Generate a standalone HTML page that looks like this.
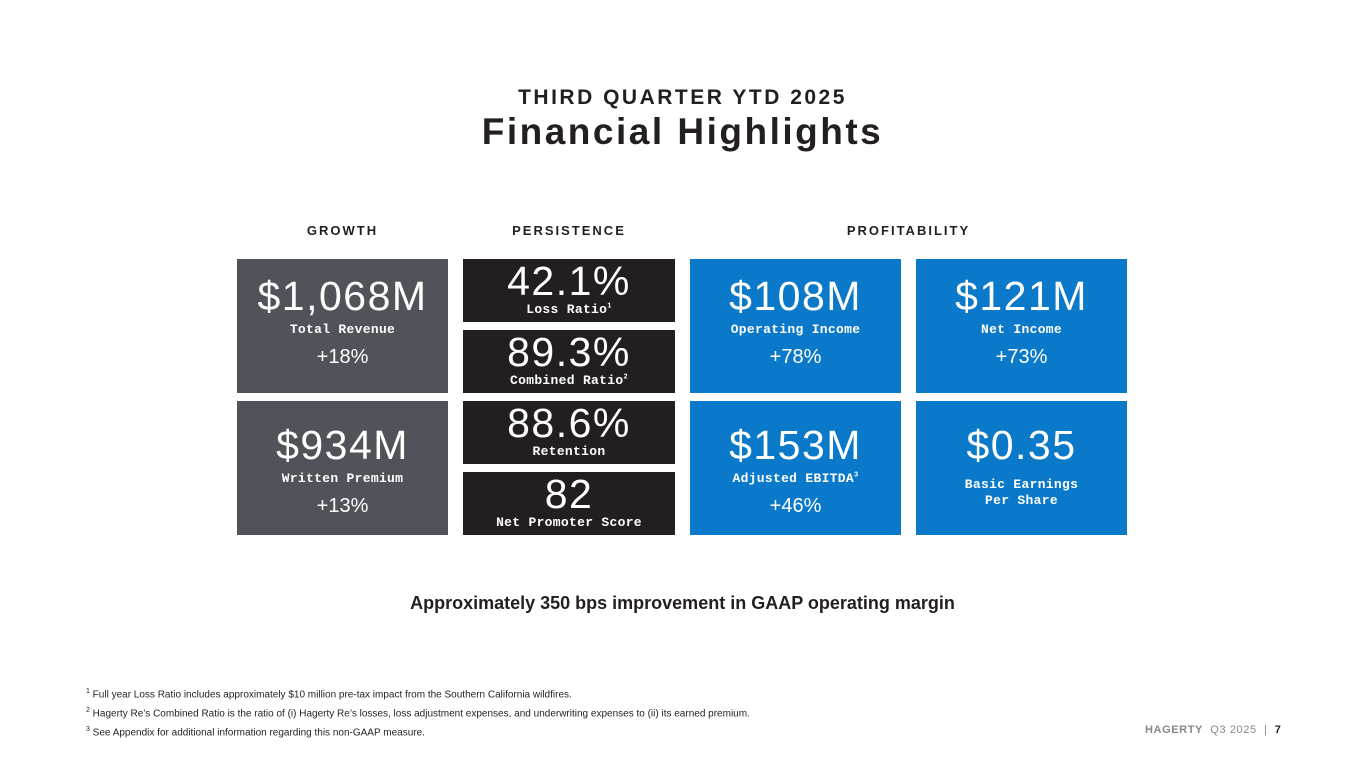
<!DOCTYPE html>
<html><head><meta charset="utf-8"><style>
*{margin:0;padding:0;box-sizing:border-box}
body{width:1365px;height:768px;background:#fff;position:relative;overflow:hidden;font-family:"Liberation Sans",sans-serif;color:#231f20}
.abs{position:absolute}
.tile{position:absolute;color:#fff;text-align:center}
.big{font-size:41px;line-height:1;letter-spacing:1.5px;font-weight:300}
.lbl{font-family:"Liberation Mono",monospace;font-weight:bold;font-size:13px;letter-spacing:0.3px}
.chg{font-size:20px}
.g{background:#505359}.d{background:#231f20}.b{background:#0a79c9}
.hdr{position:absolute;top:223px;font-weight:bold;font-size:13px;letter-spacing:2px;text-align:center}
.fn{position:absolute;left:86px;font-size:10px;color:#231f20}
sup{font-size:7px}
</style></head><body>
<div class="abs" style="left:0;width:1365px;top:86px;text-align:center;font-size:21px;font-weight:bold;letter-spacing:2.5px">THIRD QUARTER YTD 2025</div>
<div class="abs" style="left:0;width:1365px;top:111px;text-align:center;font-size:37px;font-weight:bold;letter-spacing:2.5px">Financial Highlights</div>
<div class="hdr" style="left:237px;width:211px">GROWTH</div>
<div class="hdr" style="left:463px;width:212px">PERSISTENCE</div>
<div class="hdr" style="left:690px;width:437px">PROFITABILITY</div>

<div class="tile g" style="left:237px;top:259px;width:211px;height:134px"><div class="big" style="margin-top:17px">$1,068M</div><div class="lbl" style="margin-top:5px">Total Revenue</div><div class="chg" style="margin-top:9px">+18%</div></div>
<div class="tile g" style="left:237px;top:401px;width:211px;height:134px"><div class="big" style="margin-top:24px">$934M</div><div class="lbl" style="margin-top:5px">Written Premium</div><div class="chg" style="margin-top:9px">+13%</div></div>

<div class="tile d" style="left:463px;top:259px;width:212px;height:63px"><div class="big" style="margin-top:2px">42.1%</div><div class="lbl" style="margin-top:0px">Loss Ratio<sup>1</sup></div></div>
<div class="tile d" style="left:463px;top:330px;width:212px;height:63px"><div class="big" style="margin-top:2px">89.3%</div><div class="lbl" style="margin-top:0px">Combined Ratio<sup>2</sup></div></div>
<div class="tile d" style="left:463px;top:401px;width:212px;height:63px"><div class="big" style="margin-top:2px">88.6%</div><div class="lbl" style="margin-top:0px">Retention</div></div>
<div class="tile d" style="left:463px;top:472px;width:212px;height:63px"><div class="big" style="margin-top:2px">82</div><div class="lbl" style="margin-top:0px">Net Promoter Score</div></div>

<div class="tile b" style="left:690px;top:259px;width:211px;height:134px"><div class="big" style="margin-top:17px">$108M</div><div class="lbl" style="margin-top:5px">Operating Income</div><div class="chg" style="margin-top:9px">+78%</div></div>
<div class="tile b" style="left:916px;top:259px;width:211px;height:134px"><div class="big" style="margin-top:17px">$121M</div><div class="lbl" style="margin-top:5px">Net Income</div><div class="chg" style="margin-top:9px">+73%</div></div>
<div class="tile b" style="left:690px;top:401px;width:211px;height:134px"><div class="big" style="margin-top:24px">$153M</div><div class="lbl" style="margin-top:5px">Adjusted EBITDA<sup>3</sup></div><div class="chg" style="margin-top:9px">+46%</div></div>
<div class="tile b" style="left:916px;top:401px;width:211px;height:134px"><div class="big" style="margin-top:24px">$0.35</div><div class="lbl" style="margin-top:11px;line-height:16px">Basic Earnings<br>Per Share</div></div>

<div class="abs" style="left:0;width:1365px;top:593px;text-align:center;font-size:18px;font-weight:bold">Approximately 350 bps improvement in GAAP operating margin</div>

<div class="fn" style="top:688px"><sup>1</sup> Full year Loss Ratio includes approximately $10 million pre-tax impact from the Southern California wildfires.</div>
<div class="fn" style="top:707px"><sup>2</sup> Hagerty Re’s Combined Ratio is the ratio of (i) Hagerty Re’s losses, loss adjustment expenses, and underwriting expenses to (ii) its earned premium.</div>
<div class="fn" style="top:726px"><sup>3</sup> See Appendix for additional information regarding this non-GAAP measure.</div>
<div class="abs" style="left:1145px;top:724px;font-size:11px;color:#888;letter-spacing:0.6px"><b style="color:#888">HAGERTY</b>&nbsp; Q3 2025 &nbsp;|&nbsp; <b style="color:#231f20">7</b></div>
</body></html>
